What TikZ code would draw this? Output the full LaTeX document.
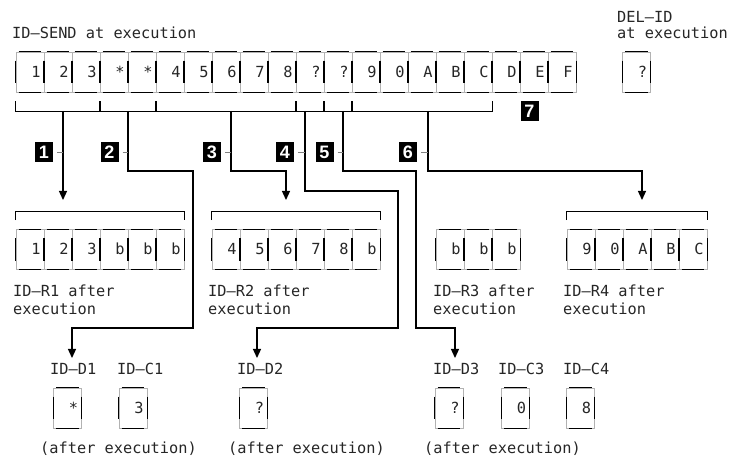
\documentclass[tikz,border=0pt]{standalone}
\usepackage{fontspec}
\setmonofont{DejaVu Sans Mono}
\newfontfamily\numfont{Liberation Sans}
\usetikzlibrary{arrows.meta,calc}
\newcommand\deco[1]{%
 \draw[seg] ([xshift=3pt]#1.north west) -- ([xshift=-3pt]#1.north east);
 \draw[seg] ([xshift=3pt]#1.south west) -- ([xshift=-3pt]#1.south east);
 \draw[seg] ([yshift=-9pt]#1.north west) -- ([yshift=9pt]#1.south west);
 \draw[seg] ([yshift=-9pt]#1.north east) -- ([yshift=9pt]#1.south east);}
\newcommand\brkbelow[2]{%
 \draw[brk] ([yshift=-9pt]#1.south west) -- ([yshift=-19pt]#1.south west) -- ([yshift=-19pt]#2.south east) -- ([yshift=-9pt]#2.south east);}
\newcommand\brkabove[2]{%
 \draw[brk] ([yshift=9pt]#1.north west) -- ([yshift=18pt]#1.north west) -- ([yshift=18pt]#2.north east) -- ([yshift=9pt]#2.north east);}
\tikzset{
 x=1pt,y=-1pt,
 txt/.style={font=\ttfamily\fontsize{15.3}{19}\selectfont, inner sep=0pt, anchor=base west, text=black!85},
 cell/.style={draw=gray!60, line width=0.7pt, minimum width=28pt, minimum height=40pt,
   inner xsep=3.5pt, inner ysep=0pt, text width=21pt, align=right, text height=11pt,
   text depth=0pt, text=black!85, font=\ttfamily\fontsize{15.3}{19}\selectfont},
 seg/.style={black, line width=1.25pt},
 brk/.style={black, line width=1.2pt},
 conn/.style={black, line width=1.3pt},
 arr/.style={-{Triangle[width=8pt,length=9pt]}},
 numbox/.style={fill=black, text=white, font=\numfont\bfseries\fontsize{18}{18}\selectfont,
   minimum width=18pt, minimum height=20pt, inner sep=0pt},
 tick/.style={gray, line width=0.8pt},
}
\begin{document}
\begin{tikzpicture}
\useasboundingbox (0,0) rectangle (732,462);
% texts
\node[txt] (title) at (12,38.5) {ID—SEND at execution};
\node[txt] (dell1) at (617,23) {DEL—ID};
\node[txt] (dell2) at (617,38.5) {at execution};
\node[txt] (r1l1) at (13,296.5) {ID—R1 after};
\node[txt] (r1l2) at (13,315) {execution};
\node[txt] (r2l1) at (208,296.5) {ID—R2 after};
\node[txt] (r2l2) at (208,315) {execution};
\node[txt] (r3l1) at (433,296.5) {ID—R3 after};
\node[txt] (r3l2) at (433,315) {execution};
\node[txt] (r4l1) at (563,296.5) {ID—R4 after};
\node[txt] (r4l2) at (563,315) {execution};
\node[txt] (d1l) at (50,375) {ID—D1};
\node[txt] (c1l) at (117,375) {ID—C1};
\node[txt] (d2l) at (237,375) {ID—D2};
\node[txt] (d3l) at (433,375) {ID—D3};
\node[txt] (c3l) at (498,375) {ID—C3};
\node[txt] (c4l) at (563,375) {ID—C4};
\node[txt] (ae1) at (40,454) {(after execution)};
\node[txt] (ae2) at (228,454) {(after execution)};
\node[txt] (ae3) at (424,454) {(after execution)};
% main row
\foreach \t [count=\i] in {1,2,3,*,*,4,5,6,7,8,?,?,9,0,A,B,C,D,E,F}{
  \node[cell] (s\i) at ({30+28*(\i-1)},72) {\t};}
\foreach \i in {1,...,20}{\deco{s\i}}
\node[cell] (del) at (636.5,72) {?};
\deco{del}
% result rows
\foreach \t [count=\i] in {1,2,3,b,b,b}{
  \node[cell] (ra\i) at ({30+28*(\i-1)},249.5) {\t};}
\foreach \t [count=\i] in {4,5,6,7,8,b}{
  \node[cell] (rb\i) at ({226+28*(\i-1)},249.5) {\t};}
\foreach \t [count=\i] in {b,b,b}{
  \node[cell] (rc\i) at ({450+28*(\i-1)},249.5) {\t};}
\foreach \t [count=\i] in {9,0,A,B,C}{
  \node[cell] (rd\i) at ({581+28*(\i-1)},249.5) {\t};}
\foreach \i in {1,...,6}{\deco{ra\i}\deco{rb\i}}
\foreach \i in {1,...,3}{\deco{rc\i}}
\foreach \i in {1,...,5}{\deco{rd\i}}
% single boxes
\node[cell] (d1) at (67.5,408) {*};
\node[cell] (c1) at (133,408) {3};
\node[cell] (d2) at (253.5,408) {?};
\node[cell] (d3) at (449,408) {?};
\node[cell] (c3) at (515.5,408) {0};
\node[cell] (c4) at (580.5,408) {8};
\foreach \n in {d1,c1,d2,d3,c3,c4}{\deco{\n}}
% brackets
\brkbelow{s1}{s3}
\brkbelow{s4}{s5}
\brkbelow{s6}{s10}
\brkbelow{s11}{s11}
\brkbelow{s12}{s12}
\brkbelow{s13}{s17}
\brkabove{ra1}{ra6}
\brkabove{rb1}{rb6}
\brkabove{rd1}{rd5}
% stems and targets
\coordinate (k1) at (63,111);
\coordinate (k2) at (128,111);
\coordinate (k3) at (231,111);
\coordinate (k4) at (305,111);
\coordinate (k5) at (343,111);
\coordinate (k6) at (428,111);
\coordinate (t1) at (63,200);
\coordinate (t3) at (286,200);
\coordinate (t6) at (642,200);
\coordinate (t2) at (72,358);
\coordinate (t4) at (257,358);
\coordinate (t5) at (455,358);
\draw[conn,arr] (k1) -- (t1);
\draw[conn,arr] (k2) |- (193,171) -- (193,328) -| (t2);
\draw[conn,arr] (k3) |- (286,171) -- (t3);
\draw[conn,arr] (k4) |- (398,191) -- (398,328) -| (t4);
\draw[conn,arr] (k5) |- (416,171) -- (416,328) -| (t5);
\draw[conn,arr] (k6) |- (642,171) -- (t6);
% number labels
\node[numbox] (n1) at (44,152) {1};
\node[numbox] (n2) at (109.5,152) {2};
\node[numbox] (n3) at (212,152) {3};
\node[numbox] (n4) at (285,152) {4};
\node[numbox] (n5) at (324.5,152) {5};
\node[numbox] (n6) at (408,152) {6};
\node[numbox] (n7) at (529.5,111) {7};
\draw[tick] ([xshift=4pt]n1.east) -- (n1 -| k1);
\draw[tick] ([xshift=4pt]n2.east) -- (n2 -| k2);
\draw[tick] ([xshift=4pt]n3.east) -- (n3 -| k3);
\draw[tick] ([xshift=4pt]n4.east) -- (n4 -| k4);
\draw[tick] ([xshift=4pt]n5.east) -- (n5 -| k5);
\draw[tick] ([xshift=4pt]n6.east) -- (n6 -| k6);
\end{tikzpicture}
\end{document}
